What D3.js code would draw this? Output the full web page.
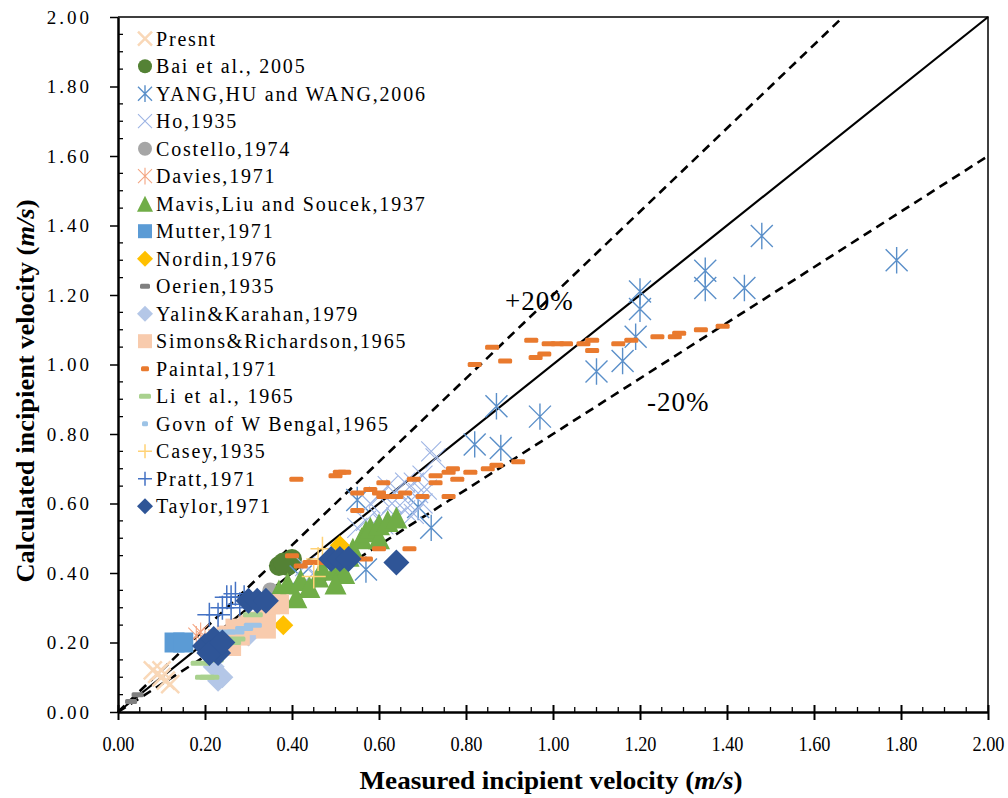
<!DOCTYPE html>
<html>
<head>
<meta charset="utf-8">
<script src="https://cdnjs.cloudflare.com/ajax/libs/d3/7.8.5/d3.min.js"></script>
<style>
    body { margin: 0; background: #fff; }
    #chart-vis { width: 1008px; height: 798px; }
    text { font-family: "Liberation Serif", "Times New Roman", serif; }
</style>
</head>
<body>
<div id="chart-vis"></div>
<script>
// [measured, calculated] incipient velocity, m/s
const presnt = [[0.08,0.12],[0.09,0.11],[0.10,0.10],[0.11,0.09],[0.10,0.12],[0.12,0.08]];
const bai = [[0.37,0.42],[0.40,0.44],[0.39,0.42],[0.38,0.43]];
const yang = [[1.79,1.30],[1.48,1.37],[1.35,1.27],[1.35,1.22],[1.44,1.22],[1.20,1.21],[1.20,1.16],[1.19,1.08],
    [1.16,1.01],[1.10,0.98],[0.97,0.85],[0.87,0.88],[0.88,0.76],[0.82,0.77],[0.72,0.53],[0.69,0.59],
    [0.55,0.61],[0.57,0.41],[0.42,0.39]];
const ho = [[0.72,0.75],[0.73,0.73],[0.70,0.68],[0.68,0.66],[0.66,0.66],[0.64,0.64],[0.62,0.65],[0.60,0.62],
    [0.58,0.60],[0.63,0.60],[0.66,0.61],[0.69,0.63],[0.71,0.64],[0.68,0.57],[0.66,0.58],[0.64,0.56],
    [0.60,0.56],[0.57,0.55],[0.70,0.60],[0.61,0.54],[0.55,0.53],[0.43,0.42],[0.45,0.40]];
const costello = [[0.35,0.35],[0.33,0.31]];
const davies = [[0.18,0.22],[0.19,0.23],[0.20,0.21]];
const mavis = [[0.37,0.35],[0.39,0.37],[0.41,0.33],[0.42,0.38],[0.46,0.39],[0.47,0.41],[0.50,0.41],[0.52,0.40],
    [0.50,0.37],[0.44,0.36],[0.53,0.45],[0.54,0.47],[0.56,0.50],[0.57,0.52],[0.58,0.53],[0.60,0.50],
    [0.60,0.54],[0.62,0.55],[0.64,0.56]];
const mutter = [[0.13,0.20],[0.15,0.20]];
const nordin = [[0.38,0.25],[0.51,0.48]];
const oerien = [[0.03,0.03],[0.045,0.05]];
const yalin = [[0.24,0.10],[0.22,0.13],[0.23,0.09],[0.27,0.23],[0.30,0.22],[0.33,0.28]];
const simons = [[0.22,0.20],[0.23,0.21],[0.25,0.22],[0.27,0.24],[0.28,0.22],[0.30,0.25],[0.32,0.26],
    [0.34,0.24],[0.34,0.29],[0.35,0.31],[0.37,0.31],[0.26,0.19]];
const paintal = [[0.82,1.00],[0.86,1.05],[0.89,1.01],[0.95,1.07],[0.96,1.02],[0.98,1.03],[0.99,1.06],
    [1.01,1.06],[1.03,1.06],[1.07,1.06],[1.09,1.07],[1.09,1.04],[1.15,1.06],[1.18,1.07],[1.24,1.08],
    [1.28,1.08],[1.29,1.09],[1.34,1.10],[1.39,1.11],
    [0.41,0.67],[0.50,0.68],[0.51,0.69],[0.52,0.69],[0.55,0.63],[0.55,0.58],[0.58,0.64],[0.60,0.63],
    [0.61,0.66],[0.61,0.62],[0.64,0.62],[0.66,0.63],[0.68,0.67],[0.70,0.62],[0.73,0.66],[0.73,0.68],
    [0.76,0.69],[0.77,0.70],[0.78,0.67],[0.76,0.62],[0.81,0.69],[0.85,0.70],[0.87,0.71],[0.92,0.72],
    [0.60,0.47],[0.67,0.47],[0.57,0.44],[0.40,0.45],[0.42,0.42],[0.44,0.43],[0.46,0.43]];
const li = [[0.20,0.10],[0.21,0.10],[0.19,0.14],[0.22,0.15],[0.26,0.20],[0.27,0.21],[0.31,0.28]];
const govn = [[0.25,0.23],[0.27,0.23],[0.29,0.24],[0.31,0.25]];
const casey = [[0.45,0.39],[0.47,0.47],[0.46,0.44]];
const pratt = [[0.21,0.28],[0.23,0.28],[0.24,0.30],[0.25,0.33],[0.26,0.33],[0.27,0.34],[0.28,0.31],
    [0.26,0.30],[0.29,0.33]];
const taylor = [[0.20,0.19],[0.22,0.21],[0.23,0.17],[0.21,0.17],[0.24,0.20],[0.30,0.32],[0.32,0.32],
    [0.34,0.32],[0.49,0.44],[0.51,0.44],[0.53,0.44],[0.64,0.43]];

const seriesNames = ["Presnt", "Bai et al., 2005", "YANG,HU and WANG,2006", "Ho,1935", "Costello,1974",
    "Davies,1971", "Mavis,Liu and Soucek,1937", "Mutter,1971", "Nordin,1976", "Oerien,1935",
    "Yalin&Karahan,1979", "Simons&Richardson,1965", "Painta l,1971".replace(" ", ""), "Li et al., 1965",
    "Govn of W Bengal,1965", "Casey,1935", "Pratt,1971", "Taylor,1971"];
const seriesData = [presnt, bai, yang, ho, costello, davies, mavis, mutter, nordin, oerien,
    yalin, simons, paintal, li, govn, casey, pratt, taylor];

const axisTicks = [0, 0.2, 0.4, 0.6, 0.8, 1.0, 1.2, 1.4, 1.6, 1.8, 2.0];

// marker look per series (same order as names)
const markerStyle = [
    {shape: "x", color: "#f9d8b8", s: 9, ls: 7, sw: 2.5},
    {shape: "circle", color: "#548235", s: 10, ls: 7},
    {shape: "star", color: "#5a8fc9", s: 11, ls: 7, sw: 1.4},
    {shape: "x", color: "#9db4e4", s: 10, ls: 7, sw: 1.1},
    {shape: "circle", color: "#a6a6a6", s: 8, ls: 7},
    {shape: "star", color: "#f4a582", s: 8, ls: 7, sw: 1.1},
    {shape: "triangle", color: "#70ad47", s: 11, ls: 8},
    {shape: "square", color: "#5b9bd5", s: 10, ls: 7},
    {shape: "diamond", color: "#ffc000", s: 10, ls: 8},
    {shape: "dash", color: "#808080", s: 6, ls: 5},
    {shape: "diamond", color: "#b4c7e7", s: 11, ls: 8},
    {shape: "square", color: "#f8cbad", s: 10, ls: 7},
    {shape: "dash", color: "#e97a2e", s: 7, ls: 4},
    {shape: "dash", color: "#a9d18e", s: 10, ls: 6},
    {shape: "dash", color: "#9dc3e6", s: 9, ls: 3},
    {shape: "plus", color: "#ffd276", s: 12, ls: 7, sw: 1.5},
    {shape: "plus", color: "#4472c4", s: 12, ls: 7, sw: 1.5},
    {shape: "diamond", color: "#2f5597", s: 13, ls: 8}
];

function drawMarker(sel, st, s) {
    let p;
    if (st.shape === "circle") {
        sel.append("circle").attr("r", s).attr("fill", st.color);
    } else if (st.shape === "square") {
        sel.append("rect").attr("x", -s).attr("y", -s).attr("width", 2 * s).attr("height", 2 * s).attr("fill", st.color);
    } else if (st.shape === "diamond") {
        sel.append("path").attr("d", `M0,${-s}L${s},0L0,${s}L${-s},0Z`).attr("fill", st.color);
    } else if (st.shape === "triangle") {
        sel.append("path").attr("d", `M0,${-s}L${s},${s}L${-s},${s}Z`).attr("fill", st.color);
    } else if (st.shape === "dash") {
        sel.append("rect").attr("x", -s).attr("y", -2.5).attr("width", 2 * s).attr("height", 5)
            .attr("rx", 1.5).attr("fill", st.color);
    } else {
        if (st.shape === "x") p = `M${-s},${-s}L${s},${s}M${-s},${s}L${s},${-s}`;
        if (st.shape === "star") p = `M${-s},${-s}L${s},${s}M${-s},${s}L${s},${-s}M0,${-s * 1.2}L0,${s * 1.2}`;
        if (st.shape === "plus") p = `M${-s},0L${s},0M0,${-s}L0,${s}`;
        sel.append("path").attr("d", p).attr("fill", "none").attr("stroke", st.color)
            .attr("stroke-width", st.sw || 1.2);
    }
}

let svg = d3.select("#chart-vis").append("svg")
    .attr("width", 1008)
    .attr("height", 798);

let x = d3.scaleLinear().domain([0, 2]).range([118, 988]);
let y = d3.scaleLinear().domain([0, 2]).range([712, 17]);
let fmt = d3.format(".2f");

// frame (top and right)
svg.append("path")
    .attr("d", `M${x(0)},${y(2)}H${x(2)}V${y(0)}`)
    .attr("fill", "none").attr("stroke", "#000").attr("stroke-width", 1.5);

// minor ticks (inside)
let minor = x.ticks(40).filter(v => !axisTicks.some(t => Math.abs(t - v) < 1e-6));
svg.append("g").selectAll("line").data(minor).enter().append("line")
    .attr("x1", d => x(d)).attr("x2", d => x(d)).attr("y1", y(0)).attr("y2", y(0) - 5)
    .attr("stroke", "#000").attr("stroke-width", 1.3);
svg.append("g").selectAll("line").data(minor).enter().append("line")
    .attr("y1", d => y(d)).attr("y2", d => y(d)).attr("x1", x(0)).attr("x2", x(0) + 5)
    .attr("stroke", "#000").attr("stroke-width", 1.3);

// x axis
let xAxis = svg.append("g")
    .attr("transform", `translate(0,${y(0)})`)
    .call(d3.axisBottom(x).tickValues(axisTicks).tickFormat(fmt).tickSize(8).tickSizeOuter(0));
xAxis.select(".domain").attr("stroke-width", 2.5);
xAxis.selectAll(".tick line").attr("y1", -7).attr("stroke-width", 2);
xAxis.selectAll(".tick text")
    .attr("y", 0).attr("dy", 39)
    .attr("font-size", 20)
    .attr("textLength", 32).attr("lengthAdjust", "spacingAndGlyphs")
    .attr("font-family", "Liberation Serif").attr("fill", "#000");

// y axis
let yAxis = svg.append("g")
    .attr("transform", `translate(${x(0)},0)`)
    .call(d3.axisLeft(y).tickValues(axisTicks).tickFormat(fmt).tickSize(8).tickSizeOuter(0));
yAxis.select(".domain").attr("stroke-width", 2.5);
yAxis.selectAll(".tick line").attr("stroke-width", 1.5);
yAxis.selectAll(".tick text")
    .attr("x", -26).attr("dy", "0.34em")
    .attr("font-size", 19)
    .attr("letter-spacing", 3)
    .attr("font-family", "Liberation Serif").attr("fill", "#000");

// reference lines: 1:1, +20%, -20%
let refLines = [
    {k: 1.0, dash: null},
    {k: 1.2, dash: "9,6"},
    {k: 0.8, dash: "9,6"}
];
refLines.forEach(r => {
    let xEnd = Math.min(2, 2 / r.k);
    svg.append("line")
        .attr("x1", x(0)).attr("y1", y(0))
        .attr("x2", x(xEnd)).attr("y2", y(xEnd * r.k))
        .attr("stroke", "#000")
        .attr("stroke-width", r.dash ? 2.6 : 2.2)
        .attr("stroke-dasharray", r.dash);
});

// points
let plot = svg.append("g");
seriesData.forEach((data, i) => {
    let st = markerStyle[i];
    plot.append("g").selectAll("g").data(data).enter().append("g")
        .attr("transform", d => `translate(${x(d[0])},${y(d[1])})`)
        .each(function () { drawMarker(d3.select(this), st, st.s); });
});

// band labels
svg.append("text").attr("x", 505).attr("y", 310).attr("font-size", 27).attr("letter-spacing", 1).text("+20%");
svg.append("text").attr("x", 647).attr("y", 411).attr("font-size", 27).attr("letter-spacing", 1).text("-20%");

// legend
let legend = svg.append("g");
seriesNames.forEach((name, i) => {
    let row = legend.append("g").attr("transform", `translate(145,${38.7 + i * 27.5})`);
    drawMarker(row, markerStyle[i], markerStyle[i].ls);
    row.append("text").attr("x", 11).attr("dy", "0.34em")
        .attr("font-size", 20).attr("letter-spacing", 1.8)
        .text(name);
});

// axis titles
let xt = svg.append("text")
    .attr("x", 551).attr("y", 789)
    .attr("text-anchor", "middle")
    .attr("font-size", 25).attr("font-weight", "bold")
    .attr("textLength", 383).attr("lengthAdjust", "spacingAndGlyphs");
xt.append("tspan").text("Measured incipient velocity  (");
xt.append("tspan").attr("font-style", "italic").text("m/s");
xt.append("tspan").text(")");

let yt = svg.append("text")
    .attr("transform", "translate(34,391) rotate(-90)")
    .attr("text-anchor", "middle")
    .attr("font-size", 26).attr("font-weight", "bold")
    .attr("textLength", 383).attr("lengthAdjust", "spacingAndGlyphs");
yt.append("tspan").text("Calculated incipient velocity (");
yt.append("tspan").attr("font-style", "italic").text("m/s");
yt.append("tspan").text(")");
</script>
</body>
</html>
